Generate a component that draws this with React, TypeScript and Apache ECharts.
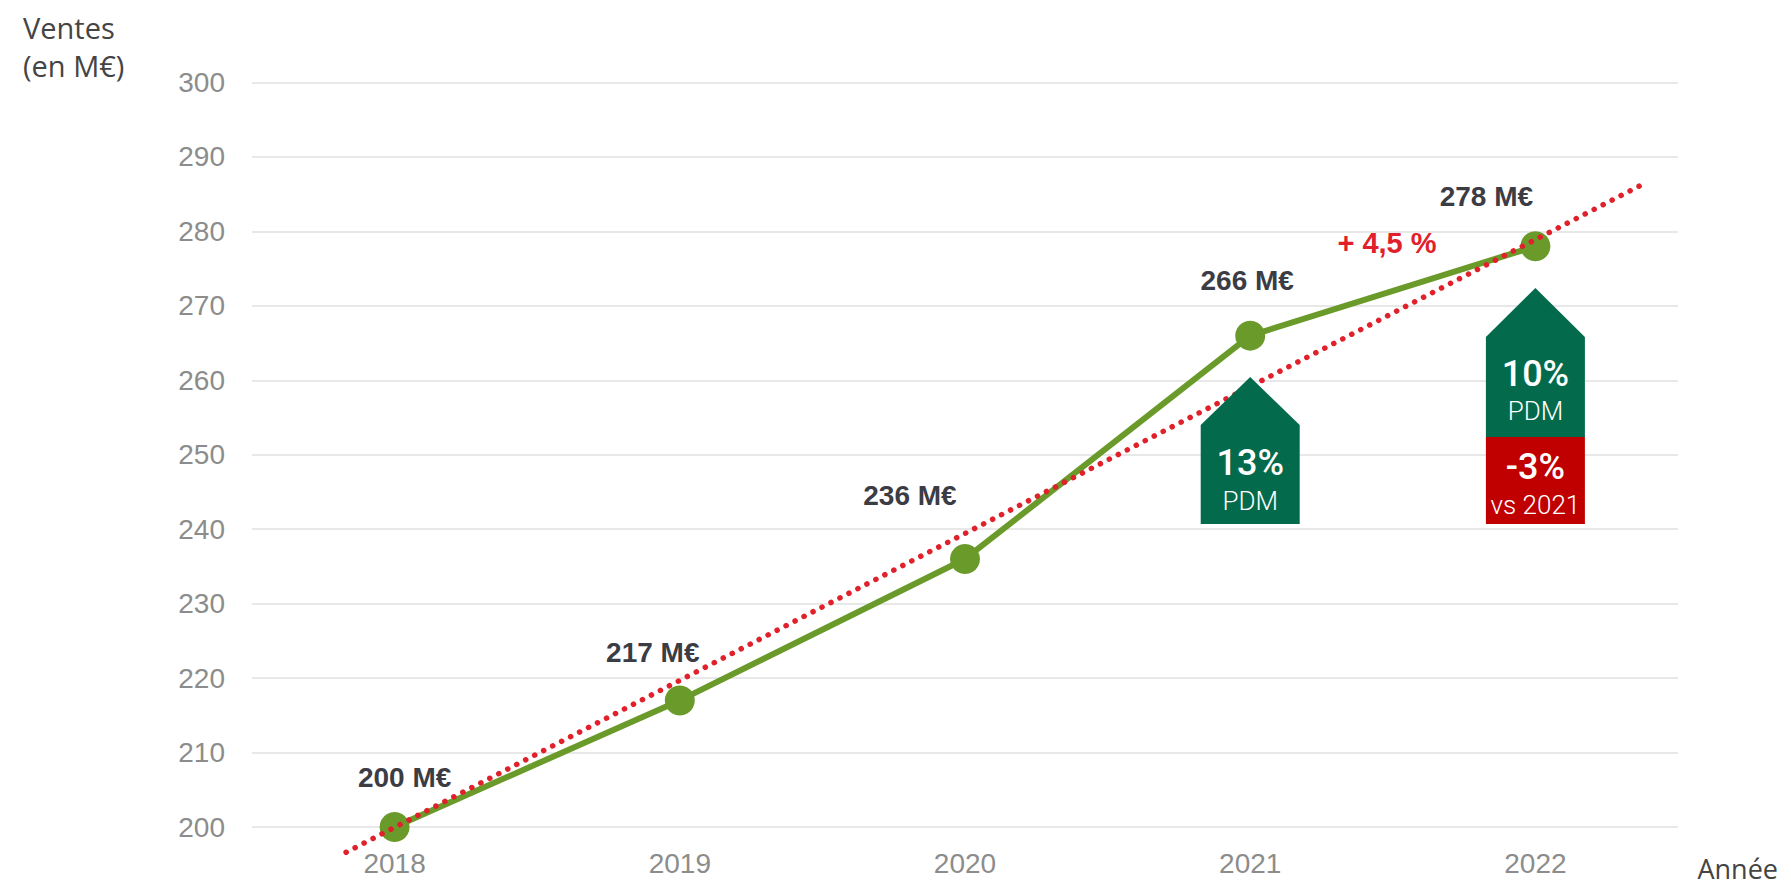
import React, { useEffect, useRef } from "react";
import * as echarts from "echarts";

const years = ["2018", "2019", "2020", "2021", "2022"];
const sales = [200, 217, 236, 266, 278];
const salesLabels = ["200 M€", "217 M€", "236 M€", "266 M€", "278 M€"];
const yTicks = { min: 200, max: 300, step: 10 };
// trend line end points: [category position, value]
const trendStart = [-0.17, 196.6];
const trendEnd = [4.37, 286.2];
const growthText = "+ 4,5 %";
const pdm2021 = { year: "2021", share: "13%", sub: "PDM" };
const pdm2022 = { year: "2022", share: "10%", sub: "PDM", change: "-3%", changeSub: "vs 2021" };

// label offsets [dx, dy] (style only)
const labelOffsets = [
  [10, 0],
  [-27, 2],
  [-55, -13],
  [-3, -5],
  [-49, 0],
];

const GREEN = "#6a9a2a";
const RED = "#e0202a";
const DARK_GREEN = "#046a4c";
const DARK_RED = "#c00000";

function txt(text: string, x: number, y: number, font: string, fill: string, align = "center") {
  return {
    type: "text",
    x,
    y,
    z: 100,
    style: {
      text,
      x: 0,
      y: 0,
      fill,
      font,
      align,
      verticalAlign: "middle",
      textAlign: align,
      textVerticalAlign: "middle",
    },
  };
}

export default function App() {
  const ref = useRef<HTMLDivElement>(null);
  useEffect(() => {
    document.body.style.margin = "0";
    const chart = echarts.init(ref.current!, undefined, { renderer: "svg" });
    const option: any = {
      animation: false,
      backgroundColor: "#ffffff",
      grid: { left: 252, right: 113, top: 82.5, bottom: 62 },
      xAxis: [
        {
          type: "category",
          data: years,
          boundaryGap: true,
          axisLine: { show: false },
          axisTick: { show: false },
          axisLabel: {
            color: "#8c8c8c",
            fontSize: 28,
            fontFamily: "Liberation Sans, Arial, sans-serif",
            margin: 22,
          },
          splitLine: { show: false },
        },
        {
          type: "value",
          min: -0.5,
          max: 4.5,
          show: false,
        },
      ],
      yAxis: {
        type: "value",
        min: yTicks.min,
        max: yTicks.max,
        interval: yTicks.step,
        axisLine: { show: false },
        axisTick: { show: false },
        axisLabel: {
          color: "#8c8c8c",
          fontSize: 28,
          fontFamily: "Liberation Sans, Arial, sans-serif",
          margin: 27,
        },
        splitLine: { lineStyle: { color: "#e8e8e8", width: 2 } },
      },
      series: [
        {
          type: "line",
          xAxisIndex: 0,
          data: sales.map((v, i) => ({
            value: v,
            label: { offset: labelOffsets[i] },
          })),
          symbol: "circle",
          symbolSize: 30,
          itemStyle: { color: GREEN },
          lineStyle: { color: GREEN, width: 6 },
          z: 2,
          label: {
            show: true,
            position: "top",
            distance: 21,
            formatter: (p: any) => salesLabels[p.dataIndex],
            color: "#3c3c44",
            fontSize: 28,
            fontWeight: "bold",
            fontFamily: "Liberation Sans, Arial, sans-serif",
          },
        },
        {
          type: "line",
          xAxisIndex: 1,
          data: [trendStart, trendEnd],
          symbol: "none",
          clip: false,
          z: 5,
          lineStyle: {
            color: RED,
            width: 5.5,
            type: [0.1, 10],
            cap: "round",
          },
          silent: true,
        },
      ],
    };
    chart.setOption(option);

    const cx1 = chart.convertToPixel({ xAxisIndex: 0 }, pdm2021.year) as number;
    const cx2 = chart.convertToPixel({ xAxisIndex: 0 }, pdm2022.year) as number;
    const hw = 49.5;
    const graphic: any[] = [
      txt("Ventes", 23, 27, "29px 'Open Sans', sans-serif", "#444444", "left"),
      txt("(en M€)", 23, 65, "29px 'Open Sans', sans-serif", "#444444", "left"),
      txt("Année", 1778, 868, "27px 'Open Sans', sans-serif", "#444444", "right"),
      txt(growthText, 1387, 243, "bold 29px 'Liberation Sans', Arial, sans-serif", RED),
      {
        type: "polygon",
        z: 90,
        shape: {
          points: [
            [cx1, 377],
            [cx1 + hw, 425],
            [cx1 + hw, 524],
            [cx1 - hw, 524],
            [cx1 - hw, 425],
          ],
        },
        style: { fill: DARK_GREEN },
      },
      txt(pdm2021.share, cx1, 463, "500 36px Roboto, sans-serif", "#ffffff"),
      txt(pdm2021.sub, cx1, 501, "300 26px Roboto, sans-serif", "#ffffff"),
      {
        type: "polygon",
        z: 90,
        shape: {
          points: [
            [cx2, 288],
            [cx2 + hw, 337],
            [cx2 + hw, 437],
            [cx2 - hw, 437],
            [cx2 - hw, 337],
          ],
        },
        style: { fill: DARK_GREEN },
      },
      {
        type: "rect",
        z: 90,
        shape: { x: cx2 - hw, y: 437, width: hw * 2, height: 87 },
        style: { fill: DARK_RED },
      },
      txt(pdm2022.share, cx2, 374, "500 36px Roboto, sans-serif", "#ffffff"),
      txt(pdm2022.sub, cx2, 411, "300 26px Roboto, sans-serif", "#ffffff"),
      txt(pdm2022.change, cx2, 467, "500 36px Roboto, sans-serif", "#ffffff"),
      txt(pdm2022.changeSub, cx2, 505, "300 26px Roboto, sans-serif", "#ffffff"),
    ];
    chart.setOption({ graphic });

    return () => chart.dispose();
  }, []);
  return (
    <div
      ref={ref}
      style={{ position: "absolute", left: 0, top: 0, width: 1791, height: 889 }}
    />
  );
}
